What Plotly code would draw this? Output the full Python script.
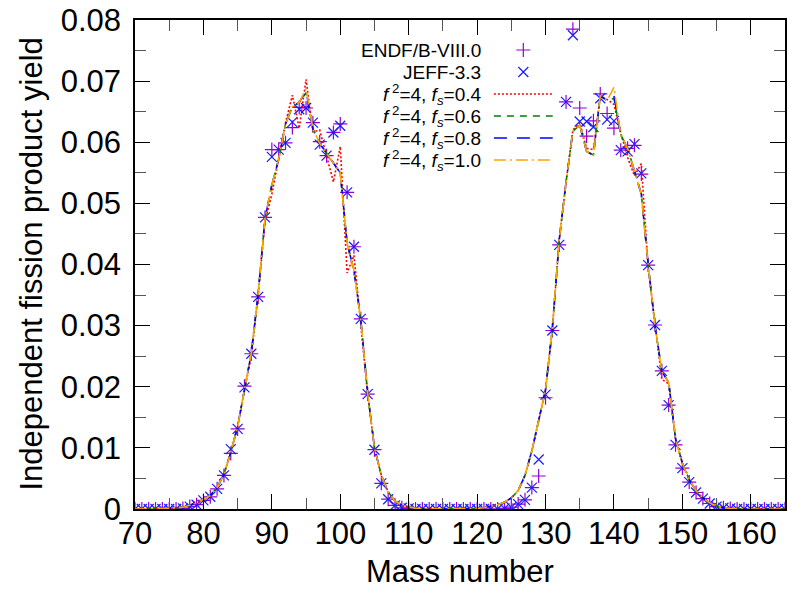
import plotly.graph_objects as go

mass = list(range(70, 166))

endf = [0,0,0,0,0,0,0,0.0001,0.0004,0.0007,
        0.0014,0.0020,0.0033,0.0055,0.0091,0.0131,0.0201,0.0254,0.0347,0.0477,
        0.0588,0.0588,0.0599,0.0624,0.0657,0.0656,0.0632,0.0601,0.0578,0.0616,
        0.0630,0.0518,0.0429,0.0311,0.0188,0.0097,0.0042,0.0016,0.0006,0.0002,
        0.0001,0,0,0,0,0,0,0,0,0,
        0,0,0,0,0.0001,0.0003,0.0008,0.0015,0.0035,0.0054,
        0.0182,0.0292,0.0432,0.0666,0.0785,0.0656,0.0610,0.0635,0.0679,0.0647,
        0.0623,0.0587,0.0590,0.0595,0.0548,0.0399,0.0301,0.0226,0.0170,0.0105,
        0.0067,0.0044,0.0027,0.0017,0.0009,0.0004,0.0002,0.0001,0,0,
        0,0,0,0,0,0]

jeff = [0,0,0,0,0,0,0,0.0001,0.0004,0.0007,
        0.0014,0.0020,0.0033,0.0055,0.0098,0.0131,0.0199,0.0254,0.0347,0.0477,
        0.0576,0.0588,0.0599,0.0633,0.0654,0.0656,0.0632,0.0596,0.0578,0.0616,
        0.0627,0.0518,0.0429,0.0311,0.0188,0.0097,0.0042,0.0016,0.0006,0.0002,
        0.0001,0,0,0,0,0,0,0,0,0,
        0,0,0,0,0.0001,0.0003,0.0008,0.0015,0.0035,0.0081,
        0.0187,0.0292,0.0432,0.0666,0.0775,0.0634,0.0634,0.0625,0.0672,0.0637,
        0.0635,0.0587,0.0585,0.0597,0.0549,0.0399,0.0301,0.0226,0.0170,0.0105,
        0.0067,0.0044,0.0027,0.0017,0.0009,0.0004,0.0002,0.0001,0,0,
        0,0,0,0,0,0]

fs04 = [0,0,0,0,0,0.0001,0.0002,0.0003,0.0006,0.0010,
        0.0016,0.0022,0.0035,0.0057,0.0093,0.0135,0.0195,0.0250,0.0350,0.0470,
        0.0515,0.0575,0.0632,0.0677,0.0623,0.0703,0.0617,0.0620,0.0578,0.0535,
        0.0593,0.0386,0.0415,0.0305,0.0188,0.0100,0.0055,0.0028,0.0013,0.0006,
        0.0003,0.0001,0,0,0,0,0,0,0,0.0001,
        0.0001,0.0002,0.0004,0.0007,0.0011,0.0018,0.0030,0.0055,0.0095,0.0145,
        0.0195,0.0295,0.0440,0.0535,0.0620,0.0632,0.0590,0.0588,0.0676,0.0670,
        0.0662,0.0615,0.0575,0.0545,0.0565,0.0395,0.0300,0.0212,0.0205,0.0115,
        0.0075,0.0048,0.0030,0.0018,0.0010,0.0005,0.0002,0.0001,0,0,
        0,0,0,0,0,0]

fs06 = [0,0,0,0,0,0.0001,0.0002,0.0003,0.0006,0.0010,
        0.0016,0.0022,0.0035,0.0057,0.0093,0.0135,0.0195,0.0255,0.0352,0.0475,
        0.0530,0.0572,0.0630,0.0658,0.0665,0.0681,0.0622,0.0598,0.0582,0.0566,
        0.0550,0.0435,0.0390,0.0310,0.0190,0.0100,0.0055,0.0028,0.0013,0.0006,
        0.0003,0.0001,0,0,0,0,0,0,0,0.0001,
        0.0001,0.0002,0.0004,0.0007,0.0011,0.0018,0.0030,0.0055,0.0095,0.0145,
        0.0195,0.0295,0.0440,0.0535,0.0618,0.0628,0.0585,0.0579,0.0676,0.0668,
        0.0672,0.0612,0.0590,0.0553,0.0515,0.0400,0.0300,0.0225,0.0207,0.0115,
        0.0075,0.0048,0.0030,0.0018,0.0010,0.0005,0.0002,0.0001,0,0,
        0,0,0,0,0,0]

fs08 = [0,0,0,0,0,0.0001,0.0002,0.0003,0.0006,0.0010,
        0.0016,0.0022,0.0035,0.0057,0.0093,0.0135,0.0195,0.0255,0.0352,0.0475,
        0.0530,0.0572,0.0630,0.0658,0.0665,0.0684,0.0622,0.0598,0.0582,0.0566,
        0.0550,0.0435,0.0390,0.0310,0.0190,0.0100,0.0055,0.0028,0.0013,0.0006,
        0.0003,0.0001,0,0,0,0,0,0,0,0.0001,
        0.0001,0.0002,0.0004,0.0007,0.0011,0.0018,0.0030,0.0055,0.0095,0.0145,
        0.0195,0.0295,0.0440,0.0535,0.0618,0.0628,0.0585,0.0579,0.0676,0.0668,
        0.0676,0.0612,0.0590,0.0553,0.0515,0.0400,0.0300,0.0225,0.0207,0.0115,
        0.0075,0.0048,0.0030,0.0018,0.0010,0.0005,0.0002,0.0001,0,0,
        0,0,0,0,0,0]

fs10 = [0,0,0,0,0,0.0001,0.0002,0.0003,0.0006,0.0010,
        0.0016,0.0022,0.0035,0.0057,0.0093,0.0135,0.0195,0.0255,0.0352,0.0475,
        0.0530,0.0572,0.0630,0.0658,0.0665,0.0688,0.0622,0.0598,0.0582,0.0566,
        0.0550,0.0435,0.0390,0.0310,0.0190,0.0100,0.0055,0.0028,0.0013,0.0006,
        0.0003,0.0001,0,0,0,0,0,0,0,0.0001,
        0.0001,0.0002,0.0004,0.0007,0.0011,0.0018,0.0030,0.0055,0.0095,0.0145,
        0.0195,0.0295,0.0440,0.0535,0.0618,0.0628,0.0585,0.0579,0.0676,0.0668,
        0.0690,0.0612,0.0590,0.0553,0.0515,0.0400,0.0300,0.0225,0.0207,0.0115,
        0.0075,0.0048,0.0030,0.0018,0.0010,0.0005,0.0002,0.0001,0,0,
        0,0,0,0,0,0]

x_ticks = [70, 80, 90, 100, 110, 120, 130, 140, 150, 160]
x_ticktext = ["70", "80", "90", "100", "110", "120", "130", "140", "150", "160"]
y_ticks = [0, 0.01, 0.02, 0.03, 0.04, 0.05, 0.06, 0.07, 0.08]
y_ticktext = ["0", "0.01", "0.02", "0.03", "0.04", "0.05", "0.06", "0.07", "0.08"]

legend_labels = [
    "ENDF/B-VIII.0",
    "JEFF-3.3",
    "<i>f</i><sup> 2</sup>=4, <i>f<sub>s</sub></i>=0.4",
    "<i>f</i><sup> 2</sup>=4, <i>f<sub>s</sub></i>=0.6",
    "<i>f</i><sup> 2</sup>=4, <i>f<sub>s</sub></i>=0.8",
    "<i>f</i><sup> 2</sup>=4, <i>f<sub>s</sub></i>=1.0",
]

FONT = "Liberation Sans, Arial, Helvetica, sans-serif"
C_ENDF = "#9400d3"
C_JEFF = "#1a1aff"
line_styles = [
    (fs04, "#ff0000", "2px,2px"),
    (fs06, "#008000", "7px,6px"),
    (fs08, "#0000ff", "13px,10px"),
    (fs10, "#ffa500", "12px,4px,2px,4px"),
]

fig = go.Figure()

fig.add_trace(go.Scatter(x=mass, y=endf, mode="markers", showlegend=False,
                         marker=dict(symbol="cross-thin", size=10,
                                     line=dict(color=C_ENDF, width=1.2))))
fig.add_trace(go.Scatter(x=mass, y=jeff, mode="markers", showlegend=False,
                         marker=dict(symbol="x-thin", size=10,
                                     line=dict(color=C_JEFF, width=1.2))))
for vals, col, dash in line_styles:
    fig.add_trace(go.Scatter(x=mass, y=vals, mode="lines", showlegend=False,
                             line=dict(color=col, width=1.6, dash=dash)))

# custom gnuplot-style key (text left, sample right) on a pixel overlay axis
W, H = 652, 489
key_rows = [30, 52, 74, 96, 118, 140]
key_text_x = 349
key_x0, key_x1 = 360, 419
key_xm = (key_x0 + key_x1) / 2
fig.add_trace(go.Scatter(x=[key_xm], y=[key_rows[0]], xaxis="x2", yaxis="y2",
                         mode="markers", showlegend=False,
                         marker=dict(symbol="cross-thin", size=10,
                                     line=dict(color=C_ENDF, width=1.2))))
fig.add_trace(go.Scatter(x=[key_xm], y=[key_rows[1]], xaxis="x2", yaxis="y2",
                         mode="markers", showlegend=False,
                         marker=dict(symbol="x-thin", size=10,
                                     line=dict(color=C_JEFF, width=1.2))))
for (vals, col, dash), ry in zip(line_styles, key_rows[2:]):
    fig.add_trace(go.Scatter(x=[key_x0, key_x1], y=[ry, ry], xaxis="x2", yaxis="y2",
                             mode="lines", showlegend=False,
                             line=dict(color=col, width=1.6, dash=dash)))

annotations = []
for txt, ry in zip(legend_labels, key_rows):
    annotations.append(dict(x=key_text_x, y=ry, xref="x2", yref="y2", text=txt,
                            showarrow=False, xanchor="right", yanchor="middle",
                            font=dict(family=FONT, size=19, color="black")))
annotations.append(dict(x=0.5, y=-0.128, xref="paper", yref="paper",
                        text="Mass number", showarrow=False,
                        xanchor="center", yanchor="middle",
                        font=dict(family=FONT, size=31, color="black")))
annotations.append(dict(x=-0.16, y=0.5, xref="paper", yref="paper",
                        text="Independent fission product yield", showarrow=False,
                        textangle=-90, xanchor="center", yanchor="middle",
                        font=dict(family=FONT, size=31, color="black")))

axis_common = dict(showline=True, linecolor="black", linewidth=1.5,
                   mirror="allticks", ticks="inside", ticklen=15, tickwidth=1.2,
                   tickcolor="black", showgrid=False, zeroline=False,
                   tickfont=dict(family=FONT, size=31, color="black"))

fig.update_layout(
    width=788, height=591,
    margin=dict(l=135, r=1, t=20, b=82),
    paper_bgcolor="white", plot_bgcolor="white",
    xaxis=dict(range=[70, 165], tickvals=x_ticks, ticktext=x_ticktext,
               minor=dict(ticks="inside", ticklen=11, tickwidth=1, tickcolor="#555",
                          tickvals=[75, 85, 95, 105, 115, 125, 135, 145, 155, 165]),
               ticklabelstandoff=-4, **axis_common),
    yaxis=dict(range=[0, 0.08], tickvals=y_ticks, ticktext=y_ticktext,
               minor=dict(ticks="inside", ticklen=11, tickwidth=1, tickcolor="#555",
                          tickvals=[0.005, 0.015, 0.025, 0.035, 0.045, 0.055, 0.065, 0.075]),
               ticklabelstandoff=6, **axis_common),
    xaxis2=dict(range=[0, W], overlaying="x", visible=False, domain=[0, 1]),
    yaxis2=dict(range=[H, 0], overlaying="y", visible=False, domain=[0, 1]),
    annotations=annotations,
)

fig.write_html("out.html")
